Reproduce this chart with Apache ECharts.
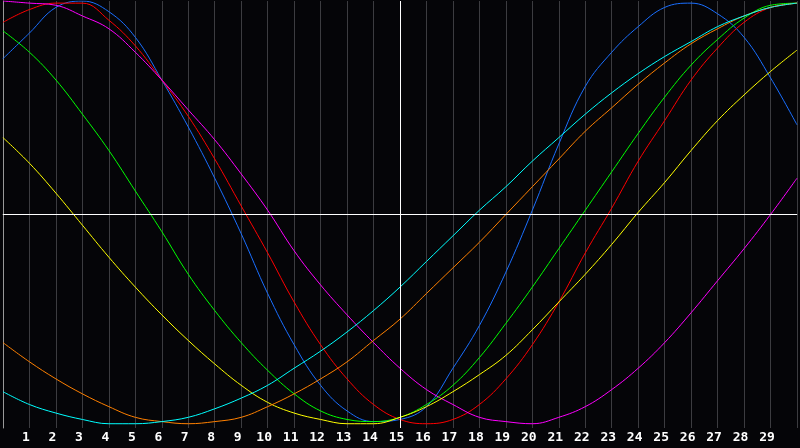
<!DOCTYPE html>
<html>
<head>
<meta charset="utf-8">
<script src="https://cdn.jsdelivr.net/npm/echarts@6/dist/echarts.min.js"></script>
<style>html,body{margin:0;padding:0;background:#050508}#chart{width:800px;height:448px}</style>
</head>
<body>
<div id="chart"></div>
<script>
// x = 0..30, values at each integer
var xs = [];
for (var i = 0; i <= 30; i++) xs.push(i);

var blue    = [.73,.85,.97,1.0,.95,.83,.63,.41,.17,-.09,-.37,-.61,-.80,-.92,-.97,-.96,-.90,-.72,-.52,-.27,.02,.33,.60,.76,.88,.97,.99,.94,.83,.64,.42];
var red     = [.90,.96,.99,.99,.91,.79,.63,.46,.26,.04,-.18,-.41,-.61,-.77,-.89,-.96,-.98,-.96,-.89,-.77,-.61,-.41,-.18,.03,.25,.44,.63,.78,.90,.97,.99];
var magenta = [1.0,.99,.98,.93,.87,.76,.63,.49,.35,.19,.02,-.17,-.33,-.47,-.60,-.72,-.82,-.89,-.95,-.97,-.98,-.95,-.90,-.82,-.72,-.60,-.46,-.31,-.16,.0,.17];
var green   = [.86,.76,.63,.47,.30,.11,-.08,-.28,-.45,-.60,-.73,-.84,-.92,-.96,-.97,-.95,-.89,-.80,-.67,-.51,-.34,-.16,.02,.20,.38,.55,.70,.82,.92,.98,.99];
var yellow  = [.36,.24,.10,-.05,-.20,-.34,-.47,-.59,-.70,-.80,-.88,-.93,-.96,-.98,-.98,-.95,-.90,-.83,-.75,-.66,-.54,-.41,-.28,-.14,.01,.15,.30,.44,.56,.67,.77];
var orange  = [-.60,-.69,-.77,-.84,-.90,-.95,-.97,-.98,-.97,-.95,-.90,-.84,-.77,-.69,-.59,-.49,-.37,-.25,-.13,.0,.13,.26,.39,.50,.61,.71,.80,.87,.93,.97,.99];
var cyan    = [-.83,-.89,-.93,-.96,-.98,-.98,-.97,-.95,-.91,-.86,-.80,-.72,-.64,-.55,-.45,-.34,-.22,-.10,.02,.13,.25,.36,.47,.57,.66,.74,.81,.88,.93,.97,.99];

var names  = ['blue','red','magenta','green','yellow','orange','cyan'];
var values = [blue, red, magenta, green, yellow, orange, cyan];
var colors = ['#1a6fff','#ff0000','#ff00ff','#00ff00','#ffff00','#ff8000','#00ffff'];

var series = values.map(function (v, k) {
    return {
        name: names[k], type: 'line', smooth: 0.4, showSymbol: false,
        lineStyle: {width: 1, color: colors[k]},
        data: v.map(function (y, i) { return [xs[i], y]; })
    };
});
series.push({
    type: 'line', data: [], silent: true,
    markLine: {
        symbol: 'none', silent: true, label: {show: false},
        lineStyle: {color: '#ffffff', width: 1, type: 'solid'},
        data: [{xAxis: 15}, {yAxis: 0}]
    }
});

var chart = echarts.init(document.getElementById('chart'));
chart.setOption({
    backgroundColor: '#050508',
    animation: false,
    grid: {left: 0, right: 0, top: 1, bottom: 20},
    xAxis: {
        type: 'value', min: 0, max: 30, interval: 1,
        axisLine: {lineStyle: {color: '#999'}},
        axisTick: {show: false},
        splitLine: {lineStyle: {color: '#3c3c40', width: 1}},
        axisLabel: {
            color: '#ffffff', fontWeight: 'bold', fontFamily: 'DejaVu Sans Mono', fontSize: 13, margin: 3,
            padding: [0, 7, 0, 0],
            formatter: function (v) { return (v === 0 || v === 30) ? '' : v; }
        }
    },
    yAxis: {
        type: 'value', min: -1, max: 1,
        axisLine: {show: true, lineStyle: {color: '#999'}},
        axisTick: {show: false}, axisLabel: {show: false}, splitLine: {show: false}
    },
    series: series
});
</script>
</body>
</html>
